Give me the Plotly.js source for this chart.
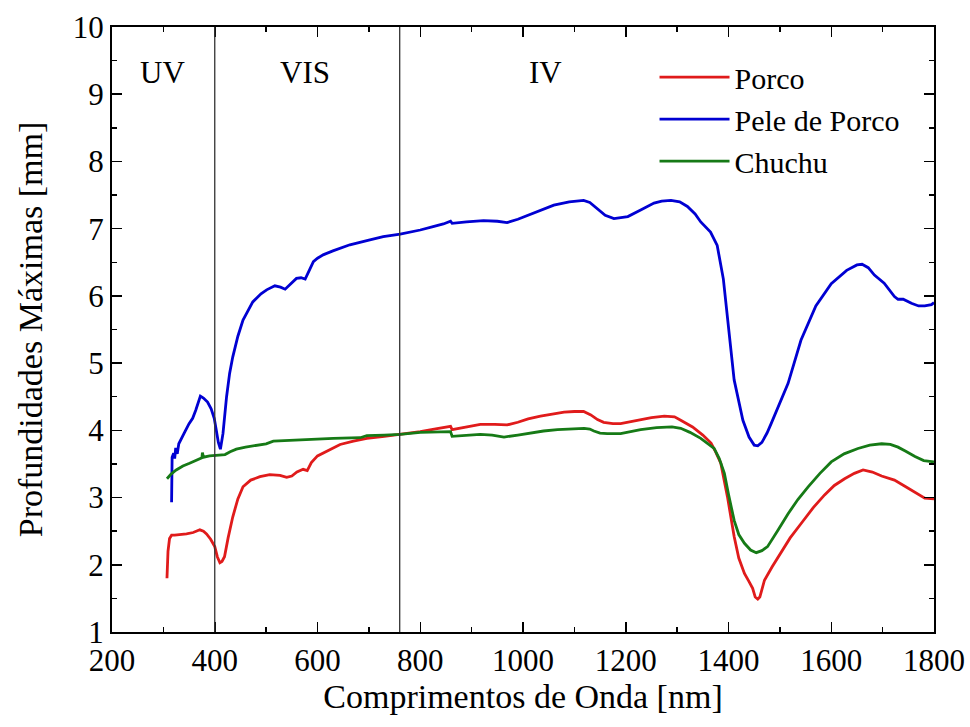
<!DOCTYPE html>
<html>
<head>
<meta charset="utf-8">
<script src="https://cdn.plot.ly/plotly-3.0.1.min.js"></script>
<style>html,body{margin:0;padding:0;background:#fff;}#chart{width:970px;height:727px;}</style>
</head>
<body>
<div id="chart"></div>
<script>
// Pele de Porco (blue)
const peleX = [316,317,320,322,324,327,330,336,342,350,357,363,368,372,378,386,393,399,403,407,411,416,423,429,435,445,455,474,490,501,517,528,537,548,559,568,576,584,592,600,611,630,663,700,728,761,800,825,845,859,862,890,923,950,969,990,1021,1060,1090,1118,1130,1145,1160,1177,1190,1204,1230,1255,1270,1288,1305,1320,1335,1346,1365,1378,1390,1400,1411,1428,1440,1450,1457,1465,1475,1483,1500,1516,1541,1570,1600,1630,1650,1660,1672,1684,1703,1715,1723,1730,1740,1756,1770,1782,1795,1800];
const peleY = [2.93,3.60,3.66,3.58,3.74,3.65,3.80,3.90,3.98,4.10,4.18,4.30,4.42,4.51,4.48,4.42,4.32,4.18,4.00,3.82,3.72,3.95,4.50,4.85,5.09,5.40,5.64,5.91,6.03,6.09,6.15,6.13,6.10,6.18,6.26,6.27,6.25,6.38,6.51,6.56,6.61,6.67,6.76,6.83,6.88,6.92,6.98,7.03,7.07,7.11,7.08,7.10,7.12,7.11,7.09,7.14,7.23,7.35,7.40,7.42,7.39,7.30,7.20,7.15,7.16,7.18,7.28,7.38,7.41,7.42,7.40,7.33,7.22,7.10,6.95,6.75,6.25,5.55,4.75,4.15,3.90,3.78,3.77,3.82,3.96,4.10,4.40,4.70,5.34,5.85,6.18,6.38,6.46,6.47,6.42,6.31,6.19,6.08,5.99,5.95,5.95,5.89,5.85,5.85,5.87,5.90];

// Porco (red)
const porcoX = [307,309,312,316,322,335,345,358,371,378,384,392,400,405,410,414,419,426,435,445,455,470,488,507,527,540,550,560,572,580,588,600,620,644,670,696,730,761,800,830,859,862,890,917,945,969,990,1010,1034,1060,1080,1100,1118,1132,1145,1157,1175,1190,1210,1229,1250,1275,1295,1307,1330,1350,1366,1375,1385,1398,1411,1420,1431,1440,1447,1452,1457,1461,1463,1470,1485,1502,1520,1541,1565,1587,1606,1626,1645,1662,1680,1698,1723,1745,1763,1782,1800];
const porcoY = [1.80,2.20,2.39,2.44,2.44,2.45,2.46,2.48,2.52,2.50,2.46,2.38,2.27,2.12,2.03,2.05,2.12,2.40,2.71,2.98,3.16,3.26,3.31,3.34,3.33,3.30,3.32,3.38,3.42,3.40,3.52,3.62,3.70,3.79,3.84,3.88,3.91,3.94,3.98,4.02,4.06,4.01,4.05,4.09,4.09,4.08,4.12,4.17,4.21,4.25,4.27,4.28,4.28,4.23,4.16,4.12,4.10,4.10,4.13,4.16,4.19,4.21,4.20,4.15,4.05,3.93,3.81,3.68,3.51,3.01,2.42,2.10,1.87,1.75,1.65,1.52,1.49,1.52,1.57,1.77,1.97,2.17,2.40,2.61,2.85,3.04,3.18,3.28,3.36,3.41,3.38,3.32,3.26,3.16,3.08,2.99,2.98];

// Chuchu (green)
const chuchuX = [307,315,325,338,351,362,371,375,376,378,390,400,410,420,430,442,460,488,500,514,540,566,600,631,683,696,730,761,800,830,859,862,890,917,940,963,990,1015,1040,1067,1095,1119,1130,1138,1150,1164,1190,1210,1229,1260,1290,1307,1325,1346,1360,1372,1382,1392,1400,1411,1420,1431,1443,1454,1465,1476,1495,1516,1535,1555,1578,1600,1625,1652,1675,1698,1715,1730,1745,1763,1780,1800];
const chuchuY = [3.28,3.35,3.41,3.47,3.51,3.55,3.58,3.59,3.67,3.60,3.62,3.63,3.63,3.64,3.68,3.72,3.75,3.78,3.80,3.84,3.85,3.86,3.87,3.88,3.89,3.92,3.93,3.94,3.97,3.97,3.98,3.91,3.93,3.94,3.93,3.90,3.93,3.96,3.99,4.01,4.02,4.03,4.02,3.99,3.96,3.95,3.95,3.98,4.01,4.04,4.05,4.03,3.97,3.88,3.80,3.73,3.58,3.36,3.05,2.66,2.45,2.32,2.22,2.18,2.21,2.27,2.50,2.76,2.97,3.16,3.36,3.53,3.65,3.73,3.78,3.80,3.79,3.75,3.69,3.61,3.55,3.53];

const seriesNames = ['Porco','Pele de Porco','Chuchu'];
const regionBounds = [400, 760];
const regionLabels = ['UV','VIS','IV'];
const regionLabelX = [298, 576, 1044];
const regionLabelY = 9.33;

const FONT = 'Liberation Serif';

const traces = [
  {x: porcoX, y: porcoY, name: seriesNames[0], mode: 'lines', line: {color: '#e01b1b', width: 2.8}},
  {x: peleX, y: peleY, name: seriesNames[1], mode: 'lines', line: {color: '#0000d2', width: 2.8}},
  {x: chuchuX, y: chuchuY, name: seriesNames[2], mode: 'lines', line: {color: '#167a16', width: 2.8}}
];

const axisCommon = {
  showline: true, linecolor: '#000', linewidth: 2, mirror: 'ticks',
  ticks: 'inside', ticklen: 10, tickwidth: 1.5, tickcolor: '#000',
  showgrid: false, zeroline: false,
  tickfont: {family: FONT, size: 31, color: '#000'}
};

const layout = {
  width: 970, height: 727,
  margin: {l: 112, r: 36, t: 27, b: 95},
  paper_bgcolor: '#fff', plot_bgcolor: '#fff',
  font: {family: FONT, color: '#000'},
  showlegend: true,
  legend: {x: 0.66, y: 0.96, xanchor: 'left', yanchor: 'top', bgcolor: 'rgba(0,0,0,0)',
           itemwidth: 70,
           font: {family: FONT, size: 30, color: '#000'}, tracegroupgap: 0},
  xaxis: Object.assign({}, axisCommon, {
    range: [200, 1800], dtick: 200, tick0: 200,
    minor: {dtick: 100, ticks: 'inside', ticklen: 5, tickwidth: 1.5, tickcolor: '#000'},
    title: {text: 'Comprimentos de Onda [nm]', font: {family: FONT, size: 34, color: '#000'}, standoff: 0}
  }),
  yaxis: Object.assign({}, axisCommon, {
    range: [1, 10], dtick: 1, tick0: 1,
    minor: {dtick: 0.5, ticks: 'inside', ticklen: 5, tickwidth: 1.5, tickcolor: '#000'},
    title: {text: 'Profundidades Máximas [mm]', font: {family: FONT, size: 34, color: '#000'}, standoff: 20}
  }),
  shapes: regionBounds.map(b => ({type: 'line', xref: 'x', yref: 'paper', x0: b, x1: b, y0: 0, y1: 1,
                                  line: {color: '#333', width: 1.3}})),
  annotations: regionLabels.map((t, i) => ({x: regionLabelX[i], y: regionLabelY, xref: 'x', yref: 'y',
    text: t, showarrow: false, font: {family: FONT, size: 31, color: '#000'}}))
};

Plotly.newPlot('chart', traces, layout, {displayModeBar: false, staticPlot: true});
</script>
</body>
</html>
